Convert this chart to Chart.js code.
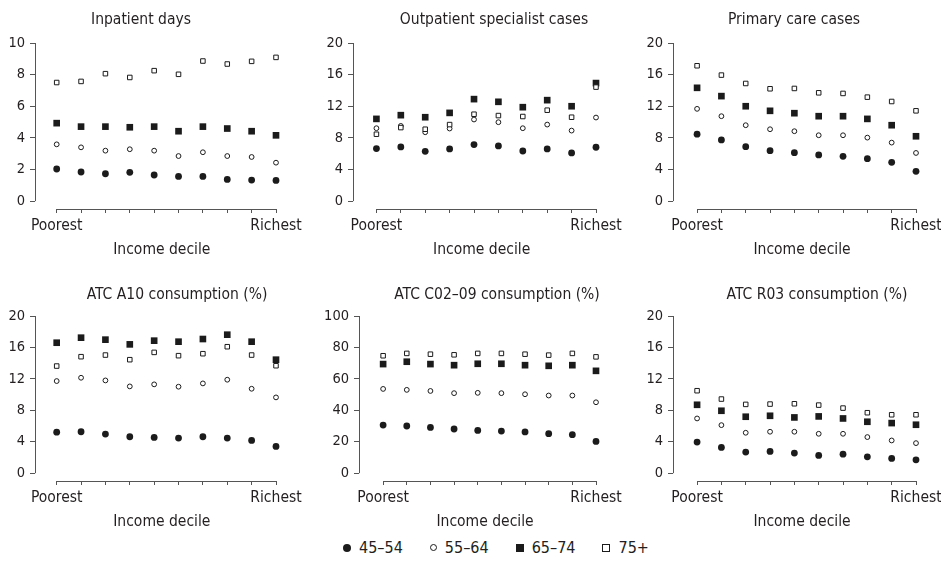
<!DOCTYPE html>
<html lang="en">
<head>
<meta charset="utf-8">
<title>Health care use by income decile</title>
<script src="https://cdn.jsdelivr.net/npm/chart.js@4.4.1/dist/chart.umd.min.js"></script>
<style>
body {
  margin: 0;
  background: #fff;
  font-family: 'Liberation Sans Narrow', 'Arial Narrow', 'DejaVu Sans Condensed', sans-serif;
}
.page {
  position: relative;
  width: 941px;
  height: 566px;
  overflow: hidden;
}
.page canvas {
  position: absolute;
}
.legend {
  position: absolute;
  left: 343px;
  top: 538px;
  display: flex;
  align-items: center;
  font-size: 16px;
  color: #231f20;
  white-space: nowrap;
}
.legend .item {
  display: flex;
  align-items: center;
  margin-right: 27px;
}
.legend .mark {
  box-sizing: border-box;
  margin-right: 8px;
}
.mark.dot { width: 8px; height: 8px; border-radius: 50%; background: #1b1b1b; }
.mark.ring { width: 7px; height: 7px; border-radius: 50%; border: 1px solid #1b1b1b; }
.mark.box { width: 8px; height: 8px; background: #1b1b1b; }
.mark.sq { width: 8px; height: 8px; border: 1px solid #1b1b1b; }
</style>
</head>
<body>
<div class="page" id="page">
  <div class="legend">
    <div class="item"><span class="mark dot"></span>45–54</div>
    <div class="item"><span class="mark ring"></span>55–64</div>
    <div class="item"><span class="mark box"></span>65–74</div>
    <div class="item"><span class="mark sq"></span>75+</div>
  </div>
</div>

<script>
/* Data: one row per age group (45–54, 55–64, 65–74, 75+), ten income deciles */
const deciles = [1, 2, 3, 4, 5, 6, 7, 8, 9, 10];
const ageGroups = ['45–54', '55–64', '65–74', '75+'];

const inpatientDays = [
  [2.03, 1.84, 1.73, 1.82, 1.65, 1.56, 1.56, 1.37, 1.33, 1.31],
  [3.59, 3.40, 3.19, 3.28, 3.19, 2.85, 3.09, 2.85, 2.79, 2.43],
  [4.93, 4.71, 4.71, 4.67, 4.71, 4.42, 4.71, 4.59, 4.42, 4.16],
  [7.50, 7.57, 8.06, 7.82, 8.25, 8.02, 8.86, 8.67, 8.84, 9.09]
];
const outpatientCases = [
  [6.64, 6.85, 6.30, 6.60, 7.15, 6.98, 6.34, 6.60, 6.09, 6.81],
  [9.22, 9.51, 8.71, 9.18, 10.32, 9.98, 9.22, 9.68, 8.92, 10.57],
  [10.40, 10.87, 10.61, 11.16, 12.90, 12.56, 11.88, 12.77, 12.00, 14.93],
  [8.46, 9.30, 9.09, 9.68, 10.99, 10.82, 10.70, 11.50, 10.61, 14.42]
];
const primaryCases = [
  [8.46, 7.74, 6.89, 6.38, 6.13, 5.84, 5.67, 5.37, 4.90, 3.76],
  [11.67, 10.74, 9.60, 9.09, 8.84, 8.33, 8.33, 8.03, 7.40, 6.09],
  [14.33, 13.28, 12.00, 11.42, 11.12, 10.74, 10.74, 10.40, 9.60, 8.20],
  [17.12, 15.94, 14.88, 14.21, 14.25, 13.70, 13.62, 13.15, 12.60, 11.42]
];
const atcA10 = [
  [5.22, 5.27, 4.97, 4.63, 4.54, 4.46, 4.63, 4.46, 4.16, 3.40],
  [11.72, 12.14, 11.80, 11.04, 11.30, 11.00, 11.42, 11.89, 10.74, 9.64],
  [16.60, 17.24, 16.99, 16.39, 16.86, 16.73, 17.07, 17.62, 16.73, 14.44],
  [13.63, 14.82, 15.03, 14.44, 15.37, 14.95, 15.20, 16.09, 15.03, 13.67]
];
const atcC02 = [
  [30.6, 30.0, 29.1, 28.1, 27.2, 26.8, 26.2, 25.1, 24.5, 20.2],
  [53.6, 53.0, 52.3, 50.9, 51.1, 50.9, 50.2, 49.4, 49.4, 45.1],
  [69.4, 70.9, 69.4, 68.7, 69.6, 69.6, 68.7, 68.3, 68.7, 65.1],
  [74.7, 76.2, 75.7, 75.3, 76.2, 76.2, 75.7, 75.1, 76.2, 74.0]
];
const atcR03 = [
  [3.95, 3.27, 2.68, 2.76, 2.55, 2.25, 2.42, 2.08, 1.87, 1.70],
  [6.96, 6.11, 5.14, 5.27, 5.27, 5.01, 5.01, 4.59, 4.16, 3.82],
  [8.70, 7.94, 7.18, 7.30, 7.09, 7.22, 6.96, 6.54, 6.37, 6.16],
  [10.49, 9.43, 8.75, 8.79, 8.83, 8.66, 8.28, 7.69, 7.43, 7.43]
];

const panelTitles = [
  'Inpatient days', 'Outpatient specialist cases', 'Primary care cases',
  'ATC A10 consumption (%)', 'ATC C02–09 consumption (%)', 'ATC R03 consumption (%)'
];
const panelSeries = [inpatientDays, outpatientCases, primaryCases, atcA10, atcC02, atcR03];
const yTicks10 = [0, 2, 4, 6, 8, 10];
const yTicks20 = [0, 4, 8, 12, 16, 20];
const yTicks100 = [0, 20, 40, 60, 80, 100];
const panelTicks = [yTicks10, yTicks20, yTicks20, yTicks20, yTicks100, yTicks20];
const xTitle = 'Income decile';

/* Page layout (pixels): y-axis x, last tick x, plot top, x-axis y */
const layout = [
  { x: 35,  xEnd: 276, top: 43,  bottom: 209, xMin: 0.11, titleX: 141, titleY: 24 },
  { x: 353, xEnd: 596, top: 43,  bottom: 209, xMin: 0.04, titleX: 494, titleY: 24 },
  { x: 673, xEnd: 916, top: 43,  bottom: 209, xMin: 0.01, titleX: 794, titleY: 24 },
  { x: 35,  xEnd: 276, top: 316, bottom: 481, xMin: 0.11, titleX: 177, titleY: 299 },
  { x: 359, xEnd: 596, top: 316, bottom: 481, xMin: -0.02, titleX: 497, titleY: 299 },
  { x: 673, xEnd: 916, top: 316, bottom: 481, xMin: 0.01, titleX: 817, titleY: 299 }
];

const FONT = "'Liberation Sans Narrow', 'Arial Narrow', 'DejaVu Sans Condensed', sans-serif";
const INK = '#1b1b1b';
const TEXT = '#231f20';
const AXIS = '#555';

const markerStyles = [
  { pointStyle: 'circle', radius: 3.4, backgroundColor: INK, borderColor: INK, borderWidth: 0 },
  { pointStyle: 'circle', radius: 2.4, backgroundColor: '#fff', borderColor: INK, borderWidth: 1 },
  { pointStyle: 'rect', radius: 4.7, backgroundColor: INK, borderColor: INK, borderWidth: 0 },
  { pointStyle: 'rect', radius: 3.2, backgroundColor: '#fff', borderColor: INK, borderWidth: 1 }
];

/* Axis lines, panel title and x-axis title */
const panelDecor = {
  id: 'panelDecor',
  afterDraw(chart, args, opts) {
    const ctx = chart.ctx;
    const xs = chart.scales.x, ys = chart.scales.y;
    const area = chart.chartArea;
    ctx.save();
    ctx.strokeStyle = AXIS;
    ctx.lineWidth = 1;
    ctx.beginPath();
    const ax = Math.round(area.left) + 0.5;
    ctx.moveTo(ax, ys.getPixelForValue(opts.yMax));
    ctx.lineTo(ax, ys.getPixelForValue(0));
    const by = Math.round(area.bottom) + 0.5;
    const x1 = xs.getPixelForValue(deciles[0]);
    const x2 = xs.getPixelForValue(deciles[deciles.length - 1]);
    ctx.moveTo(x1, by);
    ctx.lineTo(x2, by);
    ctx.stroke();

    ctx.fillStyle = TEXT;
    ctx.textAlign = 'center';
    ctx.textBaseline = 'alphabetic';
    ctx.font = '15.5px ' + FONT;
    ctx.fillText(opts.title, opts.titleX, opts.titleY);
    ctx.fillText(xTitle, (x1 + x2) / 2 - 4.5, area.bottom + 44.5);
    ctx.restore();
  }
};

function createPanel(i) {
  const L = layout[i];
  const ticks = panelTicks[i];
  const yMax = ticks[ticks.length - 1];
  const left = L.x - 40, top = L.top - 45;
  const width = 40 + (L.xEnd - L.x) + 45;
  const height = 45 + (L.bottom - L.top) + 60;

  const canvas = document.createElement('canvas');
  canvas.width = width;
  canvas.height = height;
  canvas.style.left = left + 'px';
  canvas.style.top = top + 'px';
  canvas.style.width = width + 'px';
  canvas.style.height = height + 'px';
  document.getElementById('page').appendChild(canvas);

  const datasets = panelSeries[i].map((vals, g) => ({
    label: ageGroups[g],
    data: deciles.map((d, k) => ({ x: d, y: vals[k] })),
    pointStyle: markerStyles[g].pointStyle,
    pointRadius: markerStyles[g].radius,
    pointBackgroundColor: markerStyles[g].backgroundColor,
    pointBorderColor: markerStyles[g].borderColor,
    pointBorderWidth: markerStyles[g].borderWidth,
    showLine: false,
    clip: false
  })).reverse();

  return new Chart(canvas, {
    type: 'scatter',
    data: { datasets: datasets },
    plugins: [panelDecor],
    options: {
      responsive: false,
      animation: false,
      devicePixelRatio: 1,
      layout: { padding: { top: 45, right: 45, left: 0, bottom: 0 } },
      plugins: {
        legend: { display: false },
        tooltip: { enabled: false },
        panelDecor: {
          title: panelTitles[i],
          titleX: L.titleX - left,
          titleY: L.titleY - top,
          yMax: yMax
        }
      },
      scales: {
        x: {
          type: 'linear',
          min: L.xMin,
          max: 10,
          afterFit: s => { s.height = 60; },
          afterBuildTicks: s => { s.ticks = deciles.map(v => ({ value: v })); },
          border: { display: false },
          grid: { drawOnChartArea: false, drawTicks: true, tickLength: 4, color: AXIS },
          ticks: {
            autoSkip: false,
            maxRotation: 0,
            padding: 4,
            color: TEXT,
            font: { family: FONT, size: 15.5 },
            callback: v => v === 1 ? 'Poorest' : (v === 10 ? 'Richest' : '')
          }
        },
        y: {
          min: -yMax * 0.05,
          max: yMax,
          afterFit: s => { s.width = 40; },
          afterBuildTicks: s => { s.ticks = ticks.map(v => ({ value: v })); },
          border: { display: false },
          grid: { drawOnChartArea: false, drawTicks: true, tickLength: 5, color: AXIS },
          ticks: {
            padding: 5,
            color: TEXT,
            font: { family: FONT, size: 14.5 }
          }
        }
      }
    }
  });
}

for (let i = 0; i < panelTitles.length; i++) {
  createPanel(i);
}
</script>
</body>
</html>
